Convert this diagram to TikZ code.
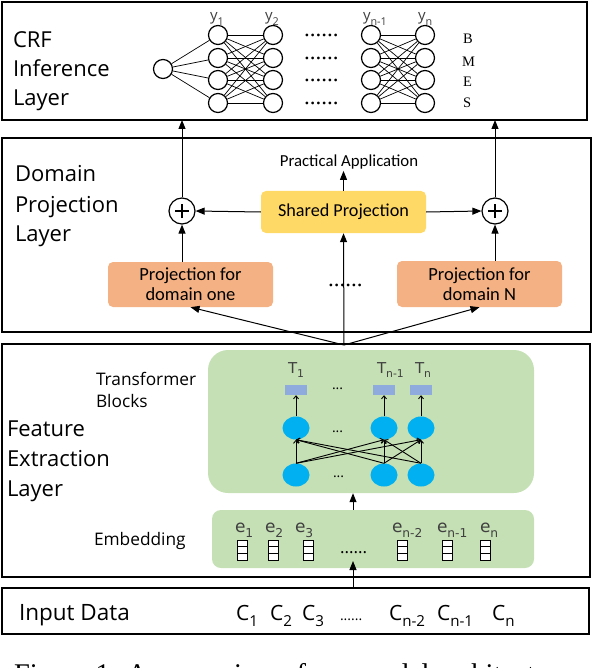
\documentclass[tikz,border=0pt]{standalone}
\usepackage{fontspec}
\setmainfont{Open Sans}
\newfontfamily\carl{Carlito}
\newfontfamily\djv{DejaVu Sans}
\newfontfamily\tms{Liberation Serif}
\usetikzlibrary{arrows.meta,shapes.geometric}
\definecolor{greenbg}{HTML}{C5E0B4}
\definecolor{orangebg}{HTML}{F4B183}
\definecolor{yellowbg}{HTML}{FFD966}
\definecolor{bluenode}{HTML}{00B0F0}
\definecolor{purplerect}{HTML}{8FAADC}
\definecolor{labgray}{HTML}{404040}
\newcommand\fs[1]{\fontsize{#1}{#1}\selectfont}
\newcommand\sbs[1]{\raisebox{-0.3em}{\scalebox{0.72}{#1}}}
\begin{document}
\begin{tikzpicture}[x=1pt,y=-1pt,
  layerbox/.style={draw, line width=1.8pt, inner sep=0, outer sep=0},
  txt/.style={inner sep=0, outer sep=0},
  title/.style={txt, anchor=base west, font=\fs{22}},
  crfnode/.style={circle, draw, line width=1.2pt, minimum size=19pt, inner sep=0},
  plusnode/.style={circle, draw, line width=1.2pt, minimum size=26pt, inner sep=0},
  arr/.style={-{Triangle[length=9pt,width=7pt]}, line width=1pt},
  tarr/.style={-{Straight Barb[length=3pt,width=5pt]}, line width=0.9pt},
  conn/.style={line width=0.7pt},
  projbox/.style={fill=orangebg, rounded corners=5pt, minimum width=165pt, inner sep=0, align=center, font=\carl\fontsize{18.5}{20}\selectfont},
  blue/.style={ellipse, fill=bluenode, minimum width=27pt, minimum height=23pt, inner sep=0},
  trect/.style={fill=purplerect, minimum width=22pt, minimum height=10pt, inner sep=0},
  dots/.style={txt, anchor=base west, font=\tms\fs{23}},
  sdots/.style={txt, anchor=base west, font=\fs{14}},
  lab/.style={txt, anchor=base west, text=labgray},
]
\useasboundingbox (0,0) rectangle (592,668);

% ---------------- layer boxes
\node[layerbox, minimum width=585pt, minimum height=118pt] (crf) at (294.5,61) {};
\node[layerbox, minimum width=589pt, minimum height=194pt] (dom) at (296.5,235) {};
\node[layerbox, minimum width=588pt, minimum height=233pt] (feat) at (296,460.5) {};
\node[layerbox, minimum width=587pt, minimum height=46pt] (inp) at (295.5,611) {};

% ---------------- CRF layer
\node[title] (crfa) at (13,48) {CRF};
\node[title] (crfb) at (13,77) {Inference};
\node[title] (crfc) at (13,106) {Layer};

\node[crfnode] (in) at (163,69) {};
\foreach \c/\x in {a/218,b/273,c/371,d/425}{
  \foreach \r/\y in {1/35,2/58,3/80,4/103}{
    \node[crfnode] (\c\r) at (\x,\y) {};
  }
}
\foreach \r in {1,2,3,4}{
  \draw[conn] (in) -- (a\r);
  \foreach \s in {1,2,3,4}{
    \draw[conn] (a\r) -- (b\s);
    \draw[conn] (c\r) -- (d\s);
  }
}
\node[lab, font=\fs{15}] (ya) at (210,21) {y\sbs{1}};
\node[lab, font=\fs{15}] (yb) at (265,21) {y\sbs{2}};
\node[lab, font=\fs{15}] (yc) at (363,21) {y\sbs{n-1}};
\node[lab, font=\fs{15}] (yd) at (418,21) {y\sbs{n}};
\node[dots] (d1) at (304,37) {......};
\node[dots] (d2) at (304,60) {......};
\node[dots] (d3) at (304,82) {......};
\node[dots] (d4) at (304,105) {......};
\node[txt, anchor=base west, font=\tms\fs{14.5}] (tB) at (463,44) {B};
\node[txt, anchor=base west, font=\tms\fs{14.5}] (tM) at (462,67) {M};
\node[txt, anchor=base west, font=\tms\fs{14.5}] (tE) at (463,87) {E};
\node[txt, anchor=base west, font=\tms\fs{14.5}] (tS) at (463,108) {S};

% ---------------- Domain projection layer
\node[title] (doma) at (15,182) {Domain};
\node[title] (domb) at (15,212) {Projection};
\node[title] (domc) at (15,241) {Layer};

\node[fill=yellowbg, rounded corners=5pt, minimum width=165pt, minimum height=42pt, inner sep=0, font=\carl\fs{18.2}] (shared) at (343.5,212) {Shared Projection};
\node[inner sep=1.5pt, font=\carl\fs{16.8}] (pa) at (349,162) {Practical Application};
\node[projbox, minimum height=45pt] (projL) at (190.5,284.5) {Projection for\\domain one};
\node[projbox, minimum height=46pt] (projN) at (479.5,284) {Projection for\\domain N};
\node[dots] (dd) at (328,286) {......};

\node[plusnode] (plusL) at (182,211) {};
\node[plusnode] (plusN) at (495,211) {};
\draw[line width=1.1pt] ([xshift=-7pt]plusL.center) -- ([xshift=7pt]plusL.center);
\draw[line width=1.1pt] ([yshift=-7pt]plusL.center) -- ([yshift=7pt]plusL.center);
\draw[line width=1.1pt] ([xshift=-7pt]plusN.center) -- ([xshift=7pt]plusN.center);
\draw[line width=1.1pt] ([yshift=-7pt]plusN.center) -- ([yshift=7pt]plusN.center);

\draw[arr] (shared.north) -- (shared.north |- pa.south);
\draw[arr] (shared.west) -- (plusL.east);
\draw[arr] (shared.east) -- (plusN.west);
\draw[arr] (projL.north -| plusL) -- (plusL.south);
\draw[arr] (projN.north -| plusN) -- (plusN.south);
\draw[arr] (plusL.north) -- (plusL.north |- crf.south);
\draw[arr] (plusN.north) -- (plusN.north |- crf.south);

\coordinate (fan) at (344,345);
\draw[arr] (fan) -- (projL.south);
\draw[arr] (fan) -- (shared.south);
\draw[arr] (fan) -- (projN.south);

% ---------------- Feature extraction layer
\node[title] (feaa) at (7,436) {Feature};
\node[title] (feab) at (7,466) {Extraction};
\node[title] (feac) at (7,496) {Layer};
\node[txt, anchor=base west, font=\fs{17.3}] (tbla) at (96,385) {Transformer};
\node[txt, anchor=base west, font=\fs{17.3}] (tblb) at (96,407) {Blocks};
\node[txt, anchor=base west, font=\fs{17.3}] (embl) at (94,545) {Embedding};

\node[fill=greenbg, rounded corners=20pt, minimum width=326pt, minimum height=143pt, inner sep=0] (tbox) at (371,421.5) {};
\node[fill=greenbg, rounded corners=9pt, minimum width=322pt, minimum height=58pt, inner sep=0] (emb) at (373,539) {};

\foreach \i/\x in {1/296,2/384,3/421}{
  \node[trect] (t\i) at (\x,390) {};
  \node[blue] (u\i) at (\x,428) {};
  \node[blue] (l\i) at (\x,475) {};
}
\foreach \i in {1,2,3}{
  \draw[tarr] (u\i.north) -- (t\i.south);
  \foreach \j in {1,2,3}{
    \draw[tarr] (l\i.north) -- (u\j.south);
  }
}
\node[lab, font=\djv\fs{15}] (T1) at (288,373) {T\sbs{1}};
\node[lab, font=\djv\fs{15}] (T2) at (377,373) {T\sbs{n-1}};
\node[lab, font=\djv\fs{15}] (T3) at (415,373) {T\sbs{n}};
\node[sdots] (td1) at (332,389) {...};
\node[sdots] (td2) at (332,432) {...};
\node[sdots] (td3) at (333,477) {...};

\foreach \x in {237,268,303,397,442,480}{
  \draw[fill=white, line width=0.8pt] (\x,540) rectangle ++(10,20);
  \draw[line width=0.8pt] (\x,546.7) -- ++(10,0);
  \draw[line width=0.8pt] (\x,553.3) -- ++(10,0);
}
\node[lab, font=\djv\fs{17}] (e1) at (235,532) {e\sbs{1}};
\node[lab, font=\djv\fs{17}] (e2) at (265,532) {e\sbs{2}};
\node[lab, font=\djv\fs{17}] (e3) at (295,532) {e\sbs{3}};
\node[lab, font=\djv\fs{17}] (e4) at (392,532) {e\sbs{n-2}};
\node[lab, font=\djv\fs{17}] (e5) at (437,532) {e\sbs{n-1}};
\node[lab, font=\djv\fs{17}] (e6) at (480,532) {e\sbs{n}};
\node[txt, anchor=base west, font=\fs{17}] (ed) at (340,553) {......};

\coordinate (ax) at (353,0);
\draw[arr] (ax |- emb.north) -- (ax |- tbox.south);
\coordinate (embtip) at (353,561);
\draw[arr] (ax |- inp.north) -- (embtip);

% ---------------- Input data
\node[txt, anchor=base west, font=\fs{22.5}] (inl) at (19,620) {Input Data};
\node[txt, anchor=base west, font=\fs{21}] (c1) at (236,620) {C\sbs{1}};
\node[txt, anchor=base west, font=\fs{21}] (c2) at (270,620) {C\sbs{2}};
\node[txt, anchor=base west, font=\fs{21}] (c3) at (302,620) {C\sbs{3}};
\node[txt, anchor=base west, font=\fs{14}] (cd) at (340,620) {......};
\node[txt, anchor=base west, font=\fs{21}] (c4) at (389,620) {C\sbs{n-2}};
\node[txt, anchor=base west, font=\fs{21}] (c5) at (437,620) {C\sbs{n-1}};
\node[txt, anchor=base west, font=\fs{21}] (c6) at (492,620) {C\sbs{n}};

% ---------------- caption (cut by the page edge)
\node[txt, anchor=base west, font=\tms\fs{28.5}] (cap) at (14,683) {Figure 1: An overview of our model architecture};
\end{tikzpicture}
\end{document}
